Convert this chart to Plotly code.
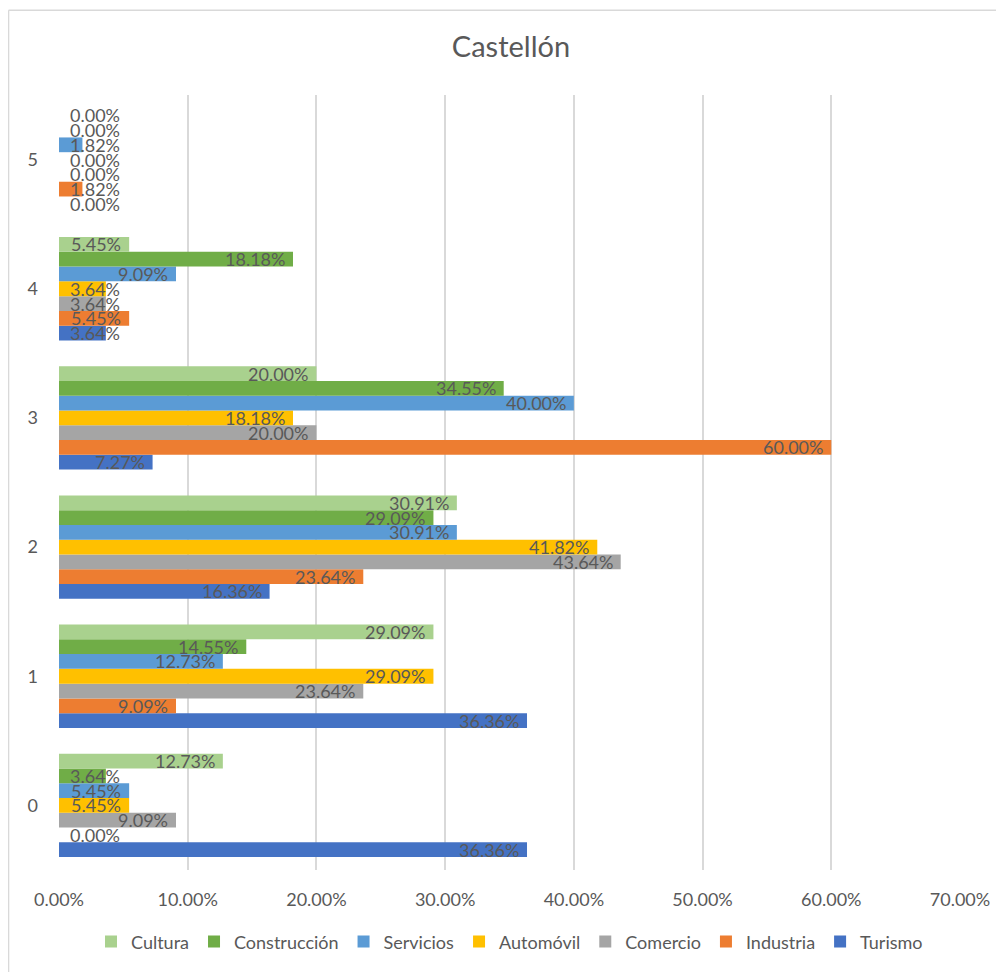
import plotly.graph_objects as go

categories = ["0", "1", "2", "3", "4", "5"]

# series listed bottom-to-top within each group
series_names = ["Turismo", "Industria", "Comercio", "Automóvil", "Servicios", "Construcción", "Cultura"]
turismo = [36.36, 36.36, 16.36, 7.27, 3.64, 0.00]
industria = [0.00, 9.09, 23.64, 60.00, 5.45, 1.82]
comercio = [9.09, 23.64, 43.64, 20.00, 3.64, 0.00]
automovil = [5.45, 29.09, 41.82, 18.18, 3.64, 0.00]
servicios = [5.45, 12.73, 30.91, 40.00, 9.09, 1.82]
construccion = [3.64, 14.55, 29.09, 34.55, 18.18, 0.00]
cultura = [12.73, 29.09, 30.91, 20.00, 5.45, 0.00]

series_values = [turismo, industria, comercio, automovil, servicios, construccion, cultura]
colors = ["#4472C4", "#ED7D31", "#A5A5A5", "#FFC000", "#5B9BD5", "#70AD47", "#A9D18E"]

x_ticks = [0, 10, 20, 30, 40, 50, 60, 70]
x_tick_labels = ["0.00%", "10.00%", "20.00%", "30.00%", "40.00%", "50.00%", "60.00%", "70.00%"]

FONT = "Lato"
GREY = "#595959"
BARGAP = 0.2
MIN_LABEL_X = 5.36   # Excel pushes short-bar labels out to a minimum end position

fig = go.Figure()
for name, vals, col in zip(series_names, series_values, colors):
    fig.add_trace(go.Bar(
        y=categories,
        x=vals,
        name=name,
        orientation="h",
        marker=dict(color=col, line=dict(width=0)),
        hoverinfo="skip",
    ))

# data labels, "inside end" like Excel
n = len(series_names)
slot = (1 - BARGAP) / n
annotations = []
for i, vals in enumerate(series_values):
    for j, v in enumerate(vals):
        annotations.append(dict(
            x=max(v, MIN_LABEL_X),
            y=j + (i - (n - 1) / 2) * slot,
            xref="x", yref="y",
            text=f"{v:.2f}%",
            showarrow=False,
            xanchor="right",
            yanchor="middle",
            xshift=-6,
            font=dict(family=FONT, size=18, color=GREY),
        ))

fig.update_layout(
    width=996,
    height=964,
    barmode="group",
    bargap=BARGAP,
    bargroupgap=0,
    paper_bgcolor="white",
    plot_bgcolor="white",
    font=dict(family=FONT, size=18, color=GREY),
    title=dict(text="Castellón", x=0.505, xanchor="center", y=0.9595, yanchor="middle",
               font=dict(family=FONT, size=29, color=GREY)),
    margin=dict(l=51, r=44, t=87, b=100),
    legend=dict(orientation="h", traceorder="reversed", x=0.5, xanchor="center",
                y=-0.0927, yanchor="middle", font=dict(family=FONT, size=18, color=GREY),
                itemwidth=30),
    showlegend=True,
    annotations=annotations,
)

fig.update_xaxes(
    range=[0, 70],
    tickvals=x_ticks,
    ticktext=x_tick_labels,
    showgrid=True,
    gridcolor="#D9D9D9",
    gridwidth=1.5,
    zeroline=False,
    showline=False,
    ticks="",
    ticklabelstandoff=17,
    automargin=False,
    tickfont=dict(family=FONT, size=18, color=GREY),
)
fig.update_yaxes(
    type="category",
    showgrid=False,
    zeroline=False,
    showline=False,
    ticks="",
    ticklabelstandoff=20,
    automargin=False,
    tickfont=dict(family=FONT, size=18, color=GREY),
)

# chart-area border (left and top edges visible in the crop)
fig.add_shape(type="line", xref="paper", yref="paper",
              x0=-0.056, y0=1.1094, x1=1.06, y1=1.1094,
              line=dict(color="#D9D9D9", width=1.5))
fig.add_shape(type="line", xref="paper", yref="paper",
              x0=-0.056, y0=1.1094, x1=-0.056, y1=-0.14,
              line=dict(color="#D9D9D9", width=1.5))

fig.write_html("out.html")
